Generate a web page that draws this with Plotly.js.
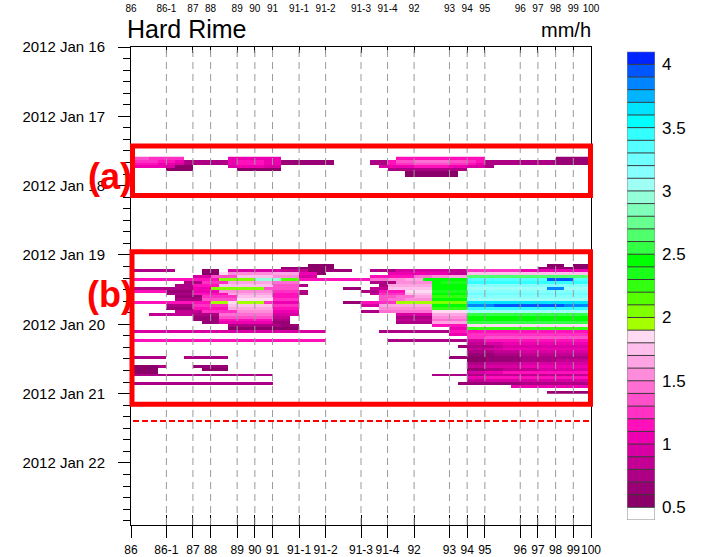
<!DOCTYPE html>
<html><head><meta charset="utf-8">
<script src="https://cdn.plot.ly/plotly-3.0.1.min.js"></script>
<style>html,body{margin:0;padding:0;background:#fff;}#chart{width:704px;height:557px;}</style>
</head><body><div id="chart"></div>
<script>
// ---- data ----
const stations = ['86','86-1','87','88','89','90','91','91-1','91-2','91-3','91-4','92','93','94','95','96','97','98','99','100'];
const stationPos = [0,2,3.5,4.5,6,7,8,9.5,11,13,14.5,16,18,19,20,22,23,24,25,26];
const levelTicks = [0.5,1,1.5,2,2.5,3,3.5,4];
const levelTickText = ['0.5','1','1.5','2','2.5','3','3.5','4'];
const levelMin = 0.4, levelStep = 0.1, levelCount = 37;
const levelColors = ['#ffffff','#8a0068','#990075','#ad0085','#c30093','#d800a2','#ec00b0','#ff10bb','#ff30c3','#ff50cb','#ff6ed3','#ff8bdb','#ffa5e3','#ffbeeb','#ffdaf3','#a4ff00','#80ff00','#55ff00','#33ff10','#1aff1a','#00ff00','#33ff44','#50ff6c','#66ff90','#80ffbb','#94ffd8','#a0fff4','#86ffff','#70ffff','#55ffff','#33ffff','#00ffff','#00e4ff','#00b4ff','#0084ff','#0056ff','#0024ff'];
// code char -> level bin (1..36); '.' = no data
const codeChars = '123456789abcdefghijklmnopqrstuvwxyz#';
const startTime = Date.UTC(2012,0,16,0,0);
const endHour = 165.5;
const cellWidth = 0.5;
const columnCount = 52;
// rows: hourly, starting at given hour after 2012-01-16 00:00
const rowsAStart = 38;
const rowsA = [
"9988|88.|..|..6|66|66|6..|...|....|...|.77|7777|77|77|....|..|..|22|22",
"8887|763|33|336|77|76|622|222|2...|.33|799|aaaa|99|87|3333|33|33|22|22",
"7776|653|33|336|77|76|622|222|2...|.33|788|9999|88|76|3333|33|33|22|22",
"6666|511|..|..5|66|65|5..|...|....|..5|666|7777|66|55|3...|..|..|..|..",
"....|111|..|...|11|11|1..|...|....|...|333|3333|33|..|....|..|..|..|..",
"....|...|..|...|..|..|...|...|....|...|..1|1111|1.|..|....|..|..|..|..",
"....|...|..|...|..|..|...|...|....|...|..1|1111|1.|..|....|..|..|..|.."
];
const rowsBStart = 73;
const rowsB = [
"....|...|..|...|..|..|...|...|....|...|...|....|..|..|....|..|..|..|..",
"....|...|..|...|..|..|...|...|....|...|...|....|..|..|....|..|..|..|..",
"....|...|..|...|..|..|...|.11|1...|...|...|....|..|..|....|..|.1|1.|11",
"....|...|..|...|..|..|.22|111|1...|...|...|....|..|..|....|..|22|21|11",
"3333|3..|.1|1.5|55|55|544|411|222.|.33|355|5555|44|88|8888|66|66|66|66",
"....|...|.1|1eb|bb|bb|ccc|661|....|...|666|6666|44|dd|dddd|dd|dd|dd|dd",
"....|...|55|999|dd|dd|bbb|55.|....|.77|777|aabb|cc|mm|mmmm|mm|mm|mm|mm",
"7777|777|77|7gg|gg|pp|phh|777|7777|7aa|bbc|ckkk|kk|tt|tttt|tt|tz|zz|tt",
"....|..3|38|88c|cc|cc|aaa|...|....|.33|3bb|bbkj|jj|uu|uuuu|uu|uu|uu|uu",
"....|.33|77|7dd|dd|dd|999|3..|....|..3|ccc|cckk|kk|rr|rrrr|rr|rr|rr|rr",
"3333|333|66|ggg|gg|g9|999|...|..22|.44|ddd|ddkk|kk|qq|qqqq|qq|qy|yq|qq",
"7777|222|66|6bb|bb|bb|888|3..|....|337|77e|eejj|jj|rr|rrrr|rr|rr|rr|rr",
"....|333|77|77c|cc|cc|777|3..|....|.48|88d|ddkk|kk|ss|ssss|ss|ss|ss|ss",
"....|.22|28|888|dd|dd|777|...|....|..9|9aa|ccii|ii|rr|rrrr|rr|rr|rr|rr",
"....|.33|39|999|ee|ee|888|...|....|..9|aab|bbkk|kk|qq|qqqq|qq|qq|qq|qq",
"7777|777|77|ffe|ff|f8|666|...|..22|778|8ff|ffgg|gg|ww|wwww|ww|ww|ww|ww",
"....|333|88|88d|dd|dd|888|...|....|55c|ccc|cckk|kk|yy|yzzz|zz|zz|zy|yy",
"....|222|77|77c|cc|cc|777|...|....|..b|bbb|bbii|ii|uu|uuuu|uu|uu|uu|uu",
"....|.44|48|888|bb|bb|666|...|....|33a|aaa|aaee|ee|qq|qqqq|qq|qq|qq|qq",
"..44|444|33|3aa|aa|aa|555|...|....|...|.55|55cc|cc|ll|llll|ll|ll|ll|ll",
"....|...|22|299|99|99|44.|...|....|...|.33|33bb|bb|kk|kkkk|kk|kk|kk|kk",
"....|...|22|277|77|77|33.|...|....|...|.44|44aa|aa|kk|kkkk|kk|kk|kk|kk",
"....|...|.2|266|66|66|22.|...|....|...|.33|33cc|cc|ll|llll|ll|ll|ll|ll",
"....|...|..|..3|33|33|322|...|....|...|...|..77|77|ee|eeee|ee|ee|ee|ee",
"....|...|..|..1|11|11|111|...|....|...|...|....|66|ii|iiii|ii|ii|ii|ii",
"5555|555|55|555|55|55|555|555|....|..3|333|3333|77|77|7777|77|77|77|77",
"....|...|..|...|..|..|...|...|....|...|...|....|66|88|8888|88|88|88|88",
"....|...|..|...|..|..|...|...|....|...|...|....|..|88|9999|99|99|99|99",
"7777|777|77|777|77|77|777|777|....|...|333|3333|33|55|7777|77|77|77|77",
"....|...|..|...|..|..|...|...|....|...|...|....|..|44|5566|66|66|66|66",
"....|...|..|...|..|..|...|...|....|...|...|....|.2|33|3455|55|55|55|55",
"....|...|..|...|..|..|...|...|....|...|...|....|..|44|5566|66|66|66|66",
"....|...|..|...|..|..|...|...|....|...|...|....|..|33|3444|55|55|55|55",
"....|...|..|...|..|..|...|...|....|...|...|....|..|22|2333|44|44|44|44",
"3333|..3|33|33.|..|..|...|...|....|...|...|....|22|11|2222|33|33|33|33",
"....|...|..|...|..|..|...|...|....|...|...|....|..|11|2222|33|33|44|44",
"....|...|..|...|..|..|...|...|....|...|...|....|..|33|4444|55|55|55|55",
"1113|...|22|22.|..|..|...|...|....|...|...|....|..|44|5555|66|66|66|66",
"111.|...|.1|11.|..|..|...|...|....|...|...|....|..|22|3344|44|55|55|55",
"111.|...|..|...|..|..|...|...|....|...|...|....|..|55|6677|77|77|77|77",
"3333|333|33|333|33|33|...|...|....|...|...|..33|33|33|4444|44|44|44|44",
"....|...|..|...|..|..|...|...|....|...|...|....|..|66|7777|77|77|77|77",
"....|...|..|...|..|..|...|...|....|...|...|....|..|44|5555|55|55|55|55",
"3333|333|33|333|33|33|...|...|....|...|...|....|.2|22|2222|33|33|33|33",
"....|...|..|...|..|..|...|...|....|...|...|....|..|..|...6|66|66|66|66",
"....|...|..|...|..|..|...|...|....|...|...|....|..|..|....|..|..|..|..",
"....|...|..|...|..|..|...|...|....|...|...|....|..|..|....|..|.2|22|22"
];

// ---- build ----
function decodeRow(s){
  const chars = s.replace(/\|/g,'').split('');
  const out = [];
  for(let i=0;i<columnCount;i++){
    const ch = chars[i];
    const k = ch ? codeChars.indexOf(ch) : -1;
    out.push(k < 0 ? null : levelMin + levelStep*(k+1) + levelStep/2);
  }
  return out;
}
function fmt(ms){
  const d = new Date(ms);
  const p = n => String(n).padStart(2,'0');
  return d.getUTCFullYear()+'-'+p(d.getUTCMonth()+1)+'-'+p(d.getUTCDate())+' '+p(d.getUTCHours())+':'+p(d.getUTCMinutes())+':00';
}
const rowMap = {};
rowsA.forEach((s,i)=>{ rowMap[rowsAStart+i] = decodeRow(s); });
rowsB.forEach((s,i)=>{ rowMap[rowsBStart+i] = decodeRow(s); });
const firstRow = rowsAStart, lastRow = rowsBStart + rowsB.length - 1;
const yTimes = [], z = [];
const emptyRow = new Array(columnCount).fill(null);
for(let h=firstRow; h<=lastRow; h++){
  yTimes.push(fmt(startTime + (h+0.5)*3600e3));
  z.push(rowMap[h] || emptyRow);
}
const xCenters = [];
for(let i=0;i<columnCount;i++) xCenters.push((i+0.5)*cellWidth);

const colorscale = [];
levelColors.forEach((c,j)=>{ colorscale.push([j/levelCount, c]); colorscale.push([(j+1)/levelCount, c]); });
const zmin = levelMin, zmax = levelMin + levelStep*levelCount;

const cbY = [], cbZ = [];
for(let j=0;j<levelCount;j++){ const v = levelMin + levelStep*j + levelStep/2; cbY.push(v); cbZ.push([v]); }

// ---- layout geometry ----
const W=704, H=557, mL=131, mR=49, mT=47, mB=32;
const pw = W-mL-mR, ph = H-mT-mB;
const px = x => (x-mL)/pw;
const py = y => (H-mB-y)/ph;
const mainDom = [0, px(591)];
const font = 'Liberation Sans, Arial, Helvetica, sans-serif';

const shapes = [];
stationPos.slice(1,-1).forEach(p=>{
  shapes.push({type:'line', xref:'x', yref:'paper', x0:p, x1:p, y0:0, y1:1, layer:'above',
    line:{color:'#9a9a9a', width:1, dash:'7px,5px'}});
});
for(let j=1;j<levelCount;j++){
  const v = levelMin + levelStep*j;
  shapes.push({type:'line', xref:'x4', yref:'y4', x0:-0.5, x1:0.5, y0:v, y1:v, layer:'above', line:{color:'#3a3a3a', width:1}});
}
shapes.push({type:'rect', xref:'x4', yref:'y4', x0:-0.5, x1:0.5, y0:zmin, y1:zmax, layer:'above', line:{color:'#888', width:1}});
shapes.push({type:'rect', xref:'paper', yref:'paper', x0:px(132.5), x1:px(590.5), y0:py(195.5), y1:py(146), line:{color:'#ff0000', width:5}});
shapes.push({type:'rect', xref:'paper', yref:'paper', x0:px(132), x1:px(590.5), y0:py(404.2), y1:py(251.7), line:{color:'#ff0000', width:5}});
shapes.push({type:'line', xref:'paper', yref:'paper', x0:px(133), x1:px(592), y0:py(421), y1:py(421), line:{color:'#ff0000', width:2, dash:'6px,3px'}});

const annotations = [
  {text:'Hard Rime', xref:'paper', yref:'paper', x:px(125), y:py(29), xanchor:'left', yanchor:'middle', showarrow:false, font:{family:font, size:25, color:'#000'}},
  {text:'mm/h', xref:'paper', yref:'paper', x:px(593), y:py(30), xanchor:'right', yanchor:'middle', showarrow:false, font:{family:font, size:20, color:'#000'}},
  {text:'<b>(a)</b>', xref:'paper', yref:'paper', x:px(110), y:py(176), xanchor:'center', yanchor:'middle', showarrow:false, font:{family:font, size:36, color:'#ff0000'}},
  {text:'<b>(b)</b>', xref:'paper', yref:'paper', x:px(110), y:py(294), xanchor:'center', yanchor:'middle', showarrow:false, font:{family:font, size:36, color:'#ff0000'}}
];

const traces = [
  {type:'heatmap', x:xCenters, y:yTimes, z:z, colorscale:colorscale, zmin:zmin, zmax:zmax, showscale:false, hoverinfo:'skip', xaxis:'x', yaxis:'y'},
  {type:'scatter', x:[null], y:[null], xaxis:'x2', yaxis:'y', showlegend:false, hoverinfo:'skip'},
  {type:'scatter', x:[null], y:[null], xaxis:'x3', yaxis:'y', showlegend:false, hoverinfo:'skip'},
  {type:'heatmap', x:[0], y:cbY, z:cbZ, colorscale:colorscale, zmin:zmin, zmax:zmax, showscale:false, hoverinfo:'skip', xaxis:'x4', yaxis:'y4'}
];

const layout = {
  width:W, height:H, margin:{l:mL, r:mR, t:mT, b:mB, pad:0},
  paper_bgcolor:'#fff', plot_bgcolor:'rgba(0,0,0,0)', showlegend:false,
  font:{family:font, color:'#000'},
  xaxis:{domain:mainDom, range:[0,26], tickmode:'array', tickvals:stationPos, ticktext:stations, tickangle:0,
    ticks:'outside', ticklen:12, tickcolor:'#000', showline:true, linecolor:'#000', linewidth:1,
    showgrid:false, zeroline:false, tickfont:{size:12, family:font}, ticklabelstandoff:2, anchor:'y', fixedrange:true},
  xaxis2:{domain:mainDom, overlaying:'x', side:'top', anchor:'y', range:[0,26], tickmode:'array', tickvals:stationPos, ticktext:stations, tickangle:0,
    ticks:'inside', ticklen:6, tickcolor:'#000', showline:true, linecolor:'#000', linewidth:1,
    showgrid:false, zeroline:false, tickfont:{size:10, family:font}, ticklabelstandoff:30},
  xaxis3:{domain:mainDom, overlaying:'x', side:'bottom', anchor:'y', range:[0,26], tickmode:'array', tickvals:stationPos, showticklabels:false,
    ticks:'inside', ticklen:10, tickcolor:'#000', showline:false, showgrid:false, zeroline:false},
  yaxis:{type:'date', range:[fmt(startTime+endHour*3600e3), fmt(startTime)], tick0:fmt(startTime), dtick:86400000, tickformat:'%Y %b %d',
    ticks:'outside', ticklen:12, tickcolor:'#000', minor:{dtick:14400000, ticks:'outside', ticklen:7, tickcolor:'#000', showgrid:false},
    showline:true, mirror:true, linecolor:'#000', linewidth:1, showgrid:false, zeroline:false,
    tickfont:{size:15, family:font}, ticklabelstandoff:10, domain:[0,1], anchor:'x', fixedrange:true},
  xaxis4:{domain:[px(627), px(655)], range:[-0.5,0.5], anchor:'y4', visible:false, fixedrange:true},
  yaxis4:{domain:[py(520), py(51.7)], range:[zmin, zmax], anchor:'x4', side:'right', tickmode:'array', tickvals:levelTicks, ticktext:levelTickText,
    ticks:'', showline:false, showgrid:false, zeroline:false, tickfont:{size:17, family:font}, ticklabelstandoff:6, fixedrange:true},
  shapes:shapes, annotations:annotations
};
Plotly.newPlot('chart', traces, layout, {staticPlot:true, displayModeBar:false});
</script>
</body></html>
